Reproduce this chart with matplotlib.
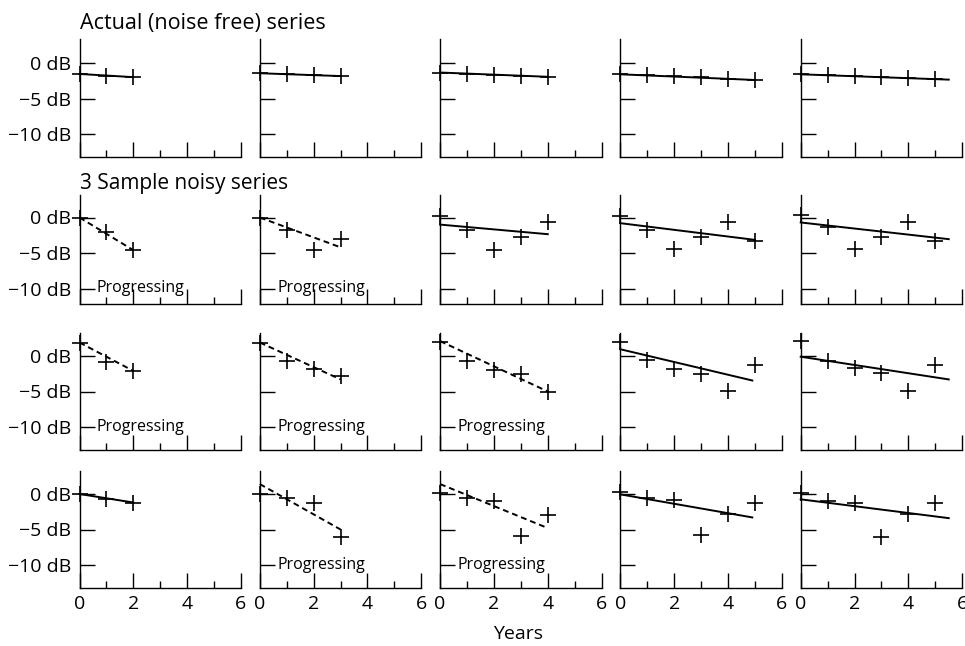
import matplotlib
matplotlib.use("Agg")
import matplotlib.pyplot as plt
import numpy as np

plt.rcParams['font.family'] = ['Open Sans', 'DejaVu Sans']

# years observed in each column
years = [[0, 1, 2], [0, 1, 2, 3], [0, 1, 2, 3, 4],
         [0, 1, 2, 3, 4, 5], [0, 1, 2, 3, 4, 5]]

# row 0: actual (noise free) series
actual = [[-1.5, -1.75, -1.95],
          [-1.4, -1.55, -1.7, -1.8],
          [-1.3, -1.45, -1.6, -1.75, -1.9],
          [-1.55, -1.7, -1.85, -2.0, -2.15, -2.35],
          [-1.55, -1.7, -1.85, -2.0, -2.1, -2.2]]

# rows 1-3: three noisy samples
noisy1 = [[0.0, -2.0, -4.6],
          [0.0, -1.75, -4.6, -3.0],
          [0.2, -1.75, -4.55, -2.8, -0.7],
          [0.2, -1.75, -4.4, -2.8, -0.7, -3.3],
          [0.35, -1.3, -4.4, -2.7, -0.6, -3.3]]
noisy2 = [[1.8, -0.8, -2.05],
          [1.9, -0.7, -1.9, -2.75],
          [2.0, -0.65, -2.0, -2.6, -5.0],
          [2.0, -0.55, -1.9, -2.6, -4.9, -1.2],
          [2.15, -0.7, -1.75, -2.35, -4.9, -1.2]]
noisy3 = [[0.0, -0.7, -1.2],
          [0.0, -0.6, -1.2, -6.0],
          [0.2, -0.6, -1.0, -5.9, -2.9],
          [0.25, -0.6, -0.85, -5.8, -2.8, -1.2],
          [0.1, -0.95, -1.2, -6.1, -2.85, -1.3]]

# fitted trend lines: (x_start, y_start, x_end, y_end)
fit_actual = [(0, -1.5, 2, -1.95), (0, -1.4, 3, -1.8), (0, -1.3, 4, -1.9),
              (0, -1.55, 5, -2.35), (0, -1.55, 5.5, -2.3)]
fit1 = [(0, 0.0, 2, -4.6), (0, 0.0, 3, -4.2), (0, -1.0, 4, -2.35),
        (0, -0.8, 5, -3.15), (0, -0.7, 5.5, -3.05)]
fit2 = [(0, 1.9, 2, -2.1), (0, 1.9, 3, -3.3), (0, 2.1, 4, -5.0),
        (0, 0.95, 4.9, -3.45), (0, -0.1, 5.5, -3.3)]
fit3 = [(0, 0.0, 2, -1.2), (0, 1.4, 3, -5.0), (0, 1.4, 4, -4.8),
        (0, -0.05, 4.9, -3.3), (0, -0.75, 5.5, -3.4)]

# which panels are flagged as progressing
progressing = [[False] * 5,
               [True, True, False, False, False],
               [True, True, True, False, False],
               [False, True, True, False, False]]

series = [actual, noisy1, noisy2, noisy3]
fits = [fit_actual, fit1, fit2, fit3]

yticks = [0, -5, -10]
ytick_labels = ["0 dB", "\u22125 dB", "\u221210 dB"]
xticks = [0, 2, 4, 6]

# layout (pixels)
W, H = 965, 646
col_left = [79.5 + 180.3 * j for j in range(5)]
col_w = 161.5
zero_px = [63.3, 217.5, 356.0, 494.0]
ylims = [(-13.25, 3.4), (-12.2, 3.15), (-13.3, 3.25), (-13.3, 3.25)]
px_db = 7.1

fig = plt.figure(figsize=(W / 100, H / 100), dpi=100)

for r in range(4):
    lo, hi = ylims[r]
    top = zero_px[r] - hi * px_db
    h = (hi - lo) * px_db
    for c in range(5):
        ax = fig.add_axes([col_left[c] / W, 1 - (top + h) / H, col_w / W, h / H])
        ax.set_xlim(0, 6)
        ax.set_ylim(lo, hi)
        for s in ['top', 'right']:
            ax.spines[s].set_visible(False)
        for s in ['left', 'bottom']:
            ax.spines[s].set_linewidth(1.0)

        ax.set_yticks(yticks)
        ax.set_xticks(xticks)
        ax.set_xticks([1, 3, 5], minor=True)
        ax.tick_params(axis='y', direction='in', length=11, width=1.0, pad=6, labelsize=14)
        ax.tick_params(axis='x', which='major', direction='in', length=11, width=1.0,
                       pad=5, labelsize=14)
        ax.tick_params(axis='x', which='minor', direction='in', length=5, width=1.0)
        if c == 0:
            ax.set_yticklabels(ytick_labels)
        else:
            ax.set_yticklabels([])
        if r == 3:
            ax.set_xticklabels([str(t) for t in xticks])
        else:
            ax.set_xticklabels([])

        ls = (0, (3, 2)) if progressing[r][c] else '-'
        x0, y0, x1, y1 = fits[r][c]
        ax.plot([x0, x1], [y0, y1], color='black', lw=1.4, linestyle=ls, clip_on=False)
        ax.plot(years[c], series[r][c], linestyle='none', marker='+', markersize=11,
                markeredgewidth=1.2, color='black', clip_on=False)

        if progressing[r][c]:
            ax.text(0.65, -10, "Progressing", fontsize=11.5, va='center', ha='left')

fig.text(col_left[0] / W, 1 - 24 / H, "Actual (noise free) series", fontsize=15.5,
         ha='left', va='center')
fig.text(col_left[0] / W, 1 - 184 / H, "3 Sample noisy series", fontsize=15,
         ha='left', va='center')
fig.text(518 / W, 1 - 634 / H, "Years", fontsize=14,
         ha='center', va='center')

fig.savefig("out.png", dpi=100)
